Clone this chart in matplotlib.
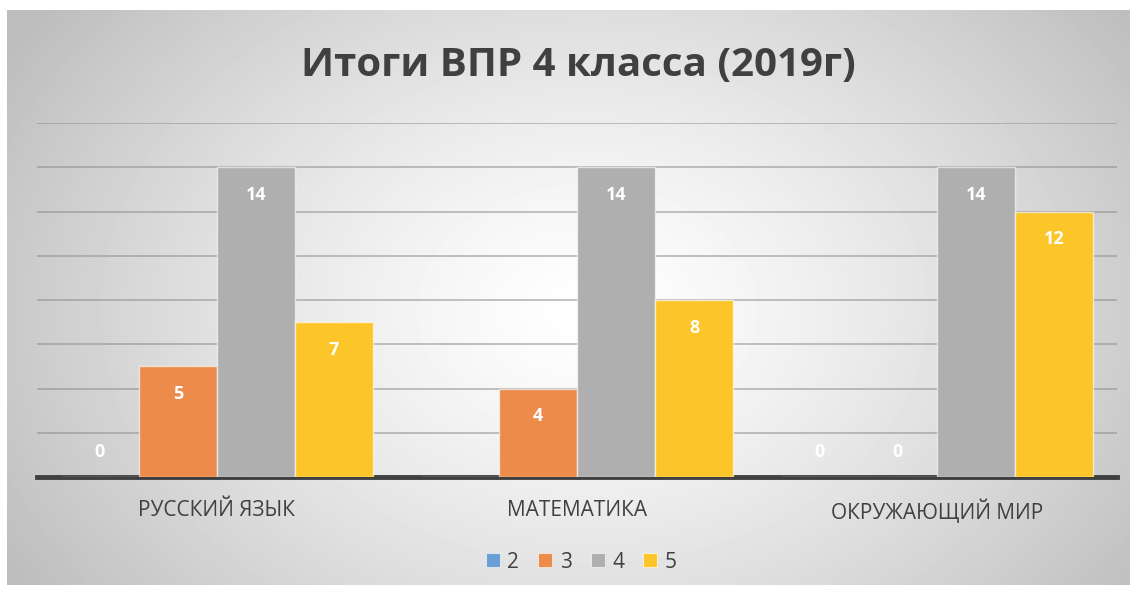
import numpy as np
import matplotlib
matplotlib.use("Agg")
import matplotlib.pyplot as plt
from matplotlib.lines import Line2D

plt.rcParams["font.family"] = ["Open Sans", "DejaVu Sans"]

categories = ["РУССКИЙ ЯЗЫК", "МАТЕМАТИКА", "ОКРУЖАЮЩИЙ МИР"]
series_names = ["2", "3", "4", "5"]
values = {
    "2": [0, np.nan, 0],   # blank cell for МАТЕМАТИКА
    "3": [5, 4, 0],
    "4": [14, 14, 14],
    "5": [7, 8, 12],
}
title = "Итоги ВПР 4 класса (2019г)"
COLORS = ["#6A9FD6", "#EC8B4A", "#AFAFAF", "#FCC62A"]

W, H = 1136, 592
fig = plt.figure(figsize=(W / 100, H / 100), dpi=100)
fig.patch.set_facecolor("white")

# radial gradient background of the chart frame
bg = fig.add_axes([7 / W, 1 - 585 / H, 1123 / W, 575 / H])
yy, xx = np.mgrid[0:575, 0:1123]
r = np.sqrt(((xx - 580) / 700) ** 2 + ((yy - 300) / 520) ** 2)
shade = np.clip(1.0 - 0.27 * r ** 1.3, 0.74, 1.0)
bg.imshow(shade, cmap="gray", vmin=0, vmax=1, aspect="auto", interpolation="bilinear")
bg.set_axis_off()

ax = fig.add_axes([37 / W, 1 - 477 / H, (1117 - 37) / W, (477 - 123) / H])
ax.patch.set_alpha(0)
ax.set_ylim(0, 16)
ax.set_xlim(-0.5, 2.5)
x = np.arange(len(categories))
bw = 0.217
for i, name in enumerate(series_names):
    pos = x + (i - 1.5) * bw
    vals = np.array(values[name], dtype=float)
    ax.bar(pos, np.nan_to_num(vals), width=bw, color=COLORS[i],
           edgecolor=(1, 1, 1, 0.6), linewidth=1, zorder=3, label=name)
    for px, v in zip(pos, vals):
        if np.isnan(v):
            continue
        off = -20 if v > 0 else 18
        ax.annotate(f"{v:g}", (px, v), xytext=(0, off), textcoords="offset points",
                    ha="center", va="center", color="white", fontsize=13,
                    fontweight="bold", zorder=4)

ax.set_yticks(np.arange(2, 17, 2))
ax.yaxis.grid(True, color="#8a8a8a", alpha=0.6, linewidth=1.2)
ax.set_axisbelow(True)
ax.tick_params(axis="y", left=False, labelleft=False)
ax.tick_params(axis="x", bottom=False, pad=13)
ax.set_xticks(x)
ax.set_xticklabels(categories, fontsize=15, color="#404040")
for s in ["top", "right", "left"]:
    ax.spines[s].set_visible(False)
ax.spines["bottom"].set_color("#404040")
ax.spines["bottom"].set_linewidth(3.5)

fig.text(578 / W, 1 - 65 / H, title, ha="center", va="center", fontsize=29,
         fontweight="bold", color="#404040")

handles = [Line2D([], [], marker="s", ls="", markersize=10, color=c,
                  markeredgecolor=(1, 1, 1, 0.6), markeredgewidth=0.8)
           for c in COLORS]
leg = fig.legend(handles, series_names, loc="center",
                 bbox_to_anchor=(581 / W, 1 - 562 / H), ncol=4,
                 frameon=False, fontsize=15, handlelength=0.7,
                 columnspacing=0.9, handletextpad=0.35)
for t in leg.get_texts():
    t.set_color("#404040")

fig.savefig("out.png", dpi=100)
